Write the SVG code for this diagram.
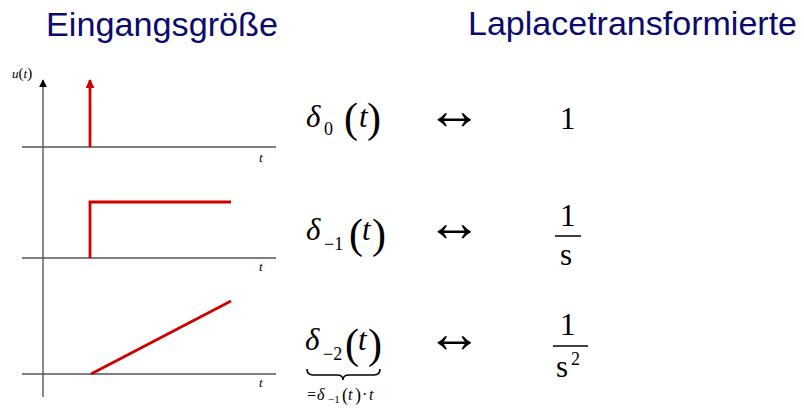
<svg xmlns="http://www.w3.org/2000/svg" width="804" height="408" viewBox="0 0 804 408">
<style>
.title{font-family:'Liberation Sans',Arial,sans-serif;font-size:33px;fill:#0b0b6e}
.ax{stroke:#555;stroke-width:1.4;fill:none}
.sig{stroke:#d00000;stroke-width:2.8;fill:none}
.m{font-family:'Liberation Serif','Times New Roman',serif;fill:#000}
.it{font-style:italic}
.big{font-size:31px}
.sub{font-size:18px}
.par{font-size:42px}
.arr{font-size:56px}
.lab{font-size:13px;font-style:italic}
.bar{stroke:#000;stroke-width:1.5}
</style>
<defs>
<marker id="ahk" viewBox="0 0 10 10" refX="9" refY="5" markerWidth="8" markerHeight="8" markerUnits="userSpaceOnUse" orient="auto"><path d="M0,0 L10,5 L0,10 z" fill="#000"/></marker>
<marker id="ahr" viewBox="0 0 10 10" refX="9" refY="5" markerWidth="9" markerHeight="9" markerUnits="userSpaceOnUse" orient="auto"><path d="M0,0 L10,5 L0,10 z" fill="#d00000"/></marker>
</defs>
<g id="titles">
<text class="title" x="46" y="36" textLength="232" lengthAdjust="spacingAndGlyphs">Eingangsgröße</text>
<text class="title" x="468" y="35" textLength="329" lengthAdjust="spacingAndGlyphs">Laplacetransformierte</text>
</g>
<g id="axes">
<line class="ax" x1="43" y1="397" x2="43" y2="80" marker-end="url(#ahk)"/>
<line class="ax" x1="22" y1="147" x2="276" y2="147"/>
<line class="ax" x1="22" y1="258" x2="276" y2="258"/>
<line class="ax" x1="22" y1="374" x2="276" y2="374"/>
<text class="m lab" x="12" y="78">u<tspan font-style="normal" font-size="15">(</tspan>t<tspan font-style="normal" font-size="15">)</tspan></text>
<text class="m lab" x="259" y="162">t</text>
<text class="m lab" x="259" y="271">t</text>
<text class="m lab" x="259" y="387">t</text>
</g>
<g id="signals">
<line class="sig" x1="90" y1="147" x2="90" y2="80" marker-end="url(#ahr)"/>
<polyline class="sig" points="90,258 90,202 231,202"/>
<line class="sig" x1="91" y1="374" x2="231" y2="301"/>
</g>
<g id="row1">
<text class="m it big" x="306" y="127">δ</text>
<text class="m sub" x="324" y="135">0</text>
<text class="m par" x="344" y="132">(</text>
<text class="m it big" x="359" y="127">t</text>
<text class="m par" x="367" y="132">)</text>
<text class="m arr" x="426" y="129">↔</text>
<text class="m big" x="560" y="129">1</text>
</g>
<g id="row2">
<text class="m it big" x="306" y="240">δ</text>
<text class="m sub" x="324" y="250">−1</text>
<text class="m par" x="349" y="248">(</text>
<text class="m it big" x="362" y="240">t</text>
<text class="m par" x="372" y="248">)</text>
<text class="m arr" x="426" y="241">↔</text>
<text class="m big" x="560" y="226">1</text>
<line class="bar" x1="555" y1="236" x2="581" y2="236"/>
<text class="m big" x="560" y="265">s</text>
</g>
<g id="row3">
<text class="m it big" x="305" y="350">δ</text>
<text class="m sub" x="323" y="360">−2</text>
<text class="m par" x="345" y="358">(</text>
<text class="m it big" x="358" y="350">t</text>
<text class="m par" x="368" y="358">)</text>
<path d="M307,369 Q307,375 313,375 L337,375 Q343,375 343,380 Q343,375 349,375 L374,375 Q380,375 380,369" fill="none" stroke="#000" stroke-width="1.6"/>
<text class="m" font-size="16" y="400"><tspan x="307">=</tspan><tspan x="317" font-style="italic">δ</tspan><tspan x="328" y="403" font-size="11">−1</tspan><tspan x="342" y="401" font-size="18">(</tspan><tspan x="348" y="400" font-style="italic">t</tspan><tspan x="355" y="401" font-size="18">)</tspan><tspan x="362" y="400">·</tspan><tspan x="369" font-style="italic">t</tspan></text>
<text class="m arr" x="426" y="352">↔</text>
<text class="m big" x="560" y="335">1</text>
<line class="bar" x1="553" y1="346" x2="588" y2="346"/>
<text class="m big" x="556" y="377">s</text>
<text class="m sub" x="571" y="365">2</text>
</g>
</svg>
